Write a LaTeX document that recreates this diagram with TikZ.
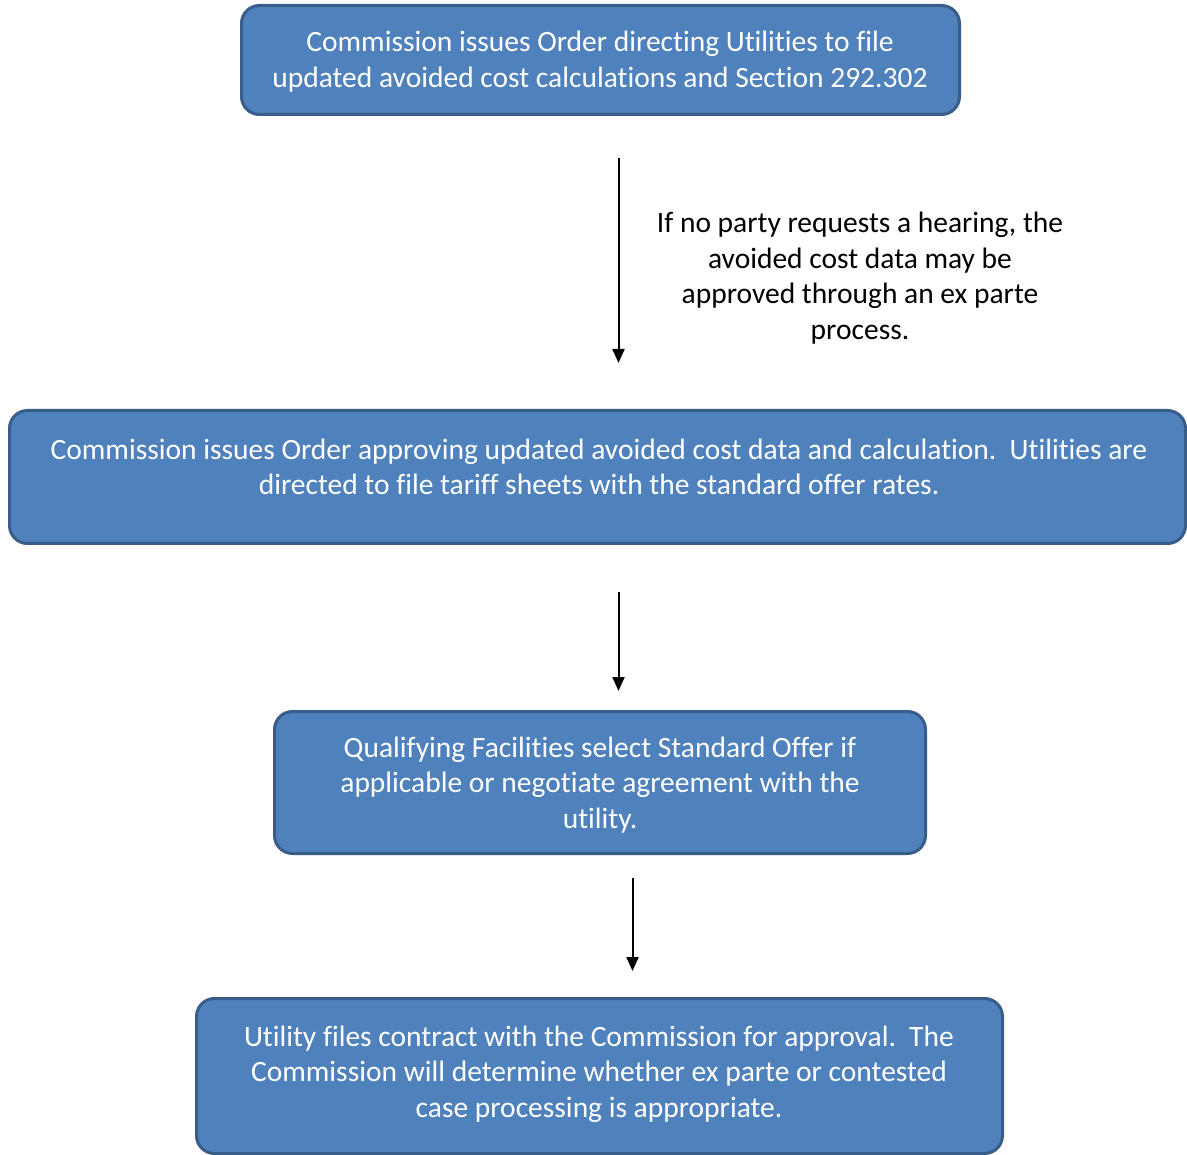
\documentclass[tikz,border=0pt]{standalone}
\usepackage{fontspec}
\setmainfont[Ligatures=NoCommon]{Carlito}
\usetikzlibrary{arrows.meta}
\definecolor{boxfill}{HTML}{4F81BD}
\definecolor{boxline}{HTML}{385D8A}
\begin{document}
\begin{tikzpicture}[x=1pt,y=-1pt,
  box/.style={draw=boxline, fill=boxfill, line width=3pt, rounded corners=18pt},
  txt/.style={text=white, align=center, font=\fontsize{29.5}{35.7}\selectfont, inner sep=0pt},
  side/.style={text=black, align=center, font=\fontsize{29.5}{35.7}\selectfont, inner sep=0pt},
  arr/.style={line width=2pt, -{Triangle[width=12pt,length=14pt]}}]
\useasboundingbox (0,0) rectangle (1187,1155);
% boxes
\draw[box] (241.5,5.5) rectangle (959.5,114.5);
\node[txt] (t1) at (600,61.5) {Commission issues Order directing Utilities to file\\updated avoided cost calculations and Section 292.302};
\draw[box] (9.5,410.5) rectangle (1185.5,543.5);
\node[txt] (t2) at (599,467) {Commission issues Order approving updated avoided cost data and calculation.\ \ Utilities are\\directed to file tariff sheets with the standard offer rates.};
\draw[box] (274.5,711.5) rectangle (925.5,853.5);
\node[txt] (t3) at (600,785) {Qualifying Facilities select Standard Offer if\\applicable or negotiate agreement with the\\utility.};
\draw[box] (196.5,998.5) rectangle (1002.5,1153.5);
\node[txt] (t4) at (599,1074) {Utility files contract with the Commission for approval.\ \ The\\Commission will determine whether ex parte or contested\\case processing is appropriate.};
% side note
\node[side] (note) at (860,278) {If no party requests a hearing, the\\avoided cost data may be\\approved through an ex parte\\process.};
% arrows
\coordinate (a1s) at (618.5,158);
\coordinate (a1e) at (618.5,363);
\coordinate (a2s) at (618.5,592);
\coordinate (a2e) at (618.5,691);
\coordinate (a3s) at (632.5,878);
\coordinate (a3e) at (632.5,971);
\draw[arr] (a1s) -- (a1e);
\draw[arr] (a2s) -- (a2e);
\draw[arr] (a3s) -- (a3e);
\end{tikzpicture}
\end{document}
